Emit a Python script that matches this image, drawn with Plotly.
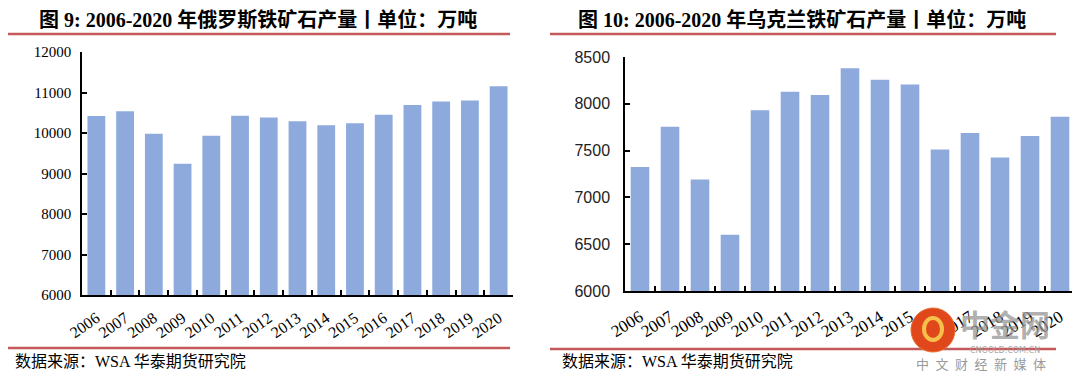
import plotly.graph_objects as go

years = [str(y) for y in range(2006, 2021)]
russia = [10420, 10540, 9980, 9240, 9930, 10425, 10380, 10290, 10190, 10240, 10450, 10690, 10780, 10800, 11155]
ukraine = [7325, 7755, 7190, 6600, 7930, 8130, 8095, 8380, 8257, 8207, 7513, 7688, 7427, 7656, 7862]
left_ticks = [6000, 7000, 8000, 9000, 10000, 11000, 12000]
right_ticks = [6000, 6500, 7000, 7500, 8000, 8500]

title_left = "图 9: 2006-2020 年俄罗斯铁矿石产量丨单位：万吨"
title_right = "图 10: 2006-2020 年乌克兰铁矿石产量丨单位：万吨"
source = "数据来源：WSA 华泰期货研究院"

BAR = "#8eaadc"
RED = "#c4585a"
OFF = 8  # page body margin
W, H = 1080 - OFF, 380 - OFF

def px(x):
    return (x - OFF) / W

def py(y):
    return 1 - (y - OFF) / H

fig = go.Figure()
fig.add_trace(go.Bar(x=years, y=russia, marker=dict(color=BAR, line=dict(width=0)),
                     xaxis="x", yaxis="y", showlegend=False))
fig.add_trace(go.Bar(x=years, y=ukraine, marker=dict(color=BAR, line=dict(width=0)),
                     xaxis="x2", yaxis="y2", showlegend=False))

serif = "Liberation Serif, Times New Roman, serif"
axis_common = dict(showgrid=False, zeroline=False, showline=True, linecolor="black", linewidth=1.5,
                   ticks="inside", ticklen=5, tickcolor="black", tickwidth=1.5, automargin=False)

fig.update_layout(
    width=W, height=H, margin=dict(l=0, r=0, t=0, b=0),
    paper_bgcolor="white", plot_bgcolor="white",
    bargap=0.38,
    xaxis=dict(domain=[px(82), px(513)], anchor="y", tickangle=-35, tickson="boundaries",
               ticklabelstandoff=6,
               tickfont=dict(family=serif, size=16, color="black"), **axis_common),
    yaxis=dict(domain=[py(295), py(52)], anchor="x", range=[6000, 12000], tickvals=left_ticks,
               ticktext=[str(v) for v in left_ticks],
               tickfont=dict(family=serif, size=15, color="black"), ticklabelstandoff=6, **axis_common),
    xaxis2=dict(domain=[px(625), px(1075)], anchor="y2", tickangle=-32, tickson="boundaries",
                ticklabelstandoff=8,
                tickfont=dict(family=serif, size=17, color="black"), **axis_common),
    yaxis2=dict(domain=[py(291), py(57)], anchor="x2", range=[6000, 8500], tickvals=right_ticks,
                ticktext=[str(v) for v in right_ticks],
                tickfont=dict(family="Liberation Sans, Arial, sans-serif", size=16, color="#222"),
                ticklabelstandoff=10, **axis_common),
)

title_font = dict(family="Liberation Serif, Noto Sans CJK SC", size=20, color="black")
fig.add_annotation(x=px(258), y=py(20), xref="paper", yref="paper", text="<b>" + title_left + "</b>",
                   showarrow=False, font=title_font, xanchor="center", yanchor="middle")
fig.add_annotation(x=px(802), y=py(20), xref="paper", yref="paper", text="<b>" + title_right + "</b>",
                   showarrow=False, font=title_font, xanchor="center", yanchor="middle")

src_font = dict(family="Liberation Serif, Noto Sans CJK SC", size=16, color="black")
fig.add_annotation(x=px(13), y=py(361), xref="paper", yref="paper", text=source,
                   showarrow=False, font=src_font, xanchor="left", yanchor="middle")
fig.add_annotation(x=px(560), y=py(361), xref="paper", yref="paper", text=source,
                   showarrow=False, font=src_font, xanchor="left", yanchor="middle")

for (x0, x1, y) in [(4, 510, 34), (4, 510, 348), (550, 1056, 34), (550, 1056, 349)]:
    fig.add_shape(type="line", xref="paper", yref="paper", x0=px(max(x0, OFF)), x1=px(x1), y0=py(y), y1=py(y),
                  line=dict(color=RED, width=2.5))

# watermark
fig.add_shape(type="circle", xref="paper", yref="paper", x0=px(911), x1=px(955), y0=py(352), y1=py(308),
              fillcolor="#e0481c", line=dict(color="#e86a2a", width=1), layer="above")
fig.add_shape(type="circle", xref="paper", yref="paper", x0=px(924), x1=px(942), y0=py(340), y1=py(318),
              fillcolor="rgba(0,0,0,0)", line=dict(color="#f6c04a", width=4), layer="above")
fig.add_annotation(x=px(1005), y=py(323), xref="paper", yref="paper", text="<b>中金网</b>", showarrow=False,
                   xanchor="center", yanchor="middle",
                   font=dict(family="Noto Sans CJK SC", size=30, color="rgba(150,150,150,0.75)"))
fig.add_annotation(x=px(1005), y=py(350), xref="paper", yref="paper", text="CNGOLD.COM.CN", showarrow=False,
                   xanchor="center", yanchor="middle",
                   font=dict(family="DejaVu Sans", size=8, color="rgba(160,160,160,0.9)"))
fig.add_annotation(x=px(981), y=py(363), xref="paper", yref="paper",
                   text="\u2002".join("中文财经新媒体"),
                   showarrow=False, xanchor="center", yanchor="middle",
                   font=dict(family="Noto Sans CJK SC", size=13, color="#9a9a9a"))

fig.write_html("out.html")
